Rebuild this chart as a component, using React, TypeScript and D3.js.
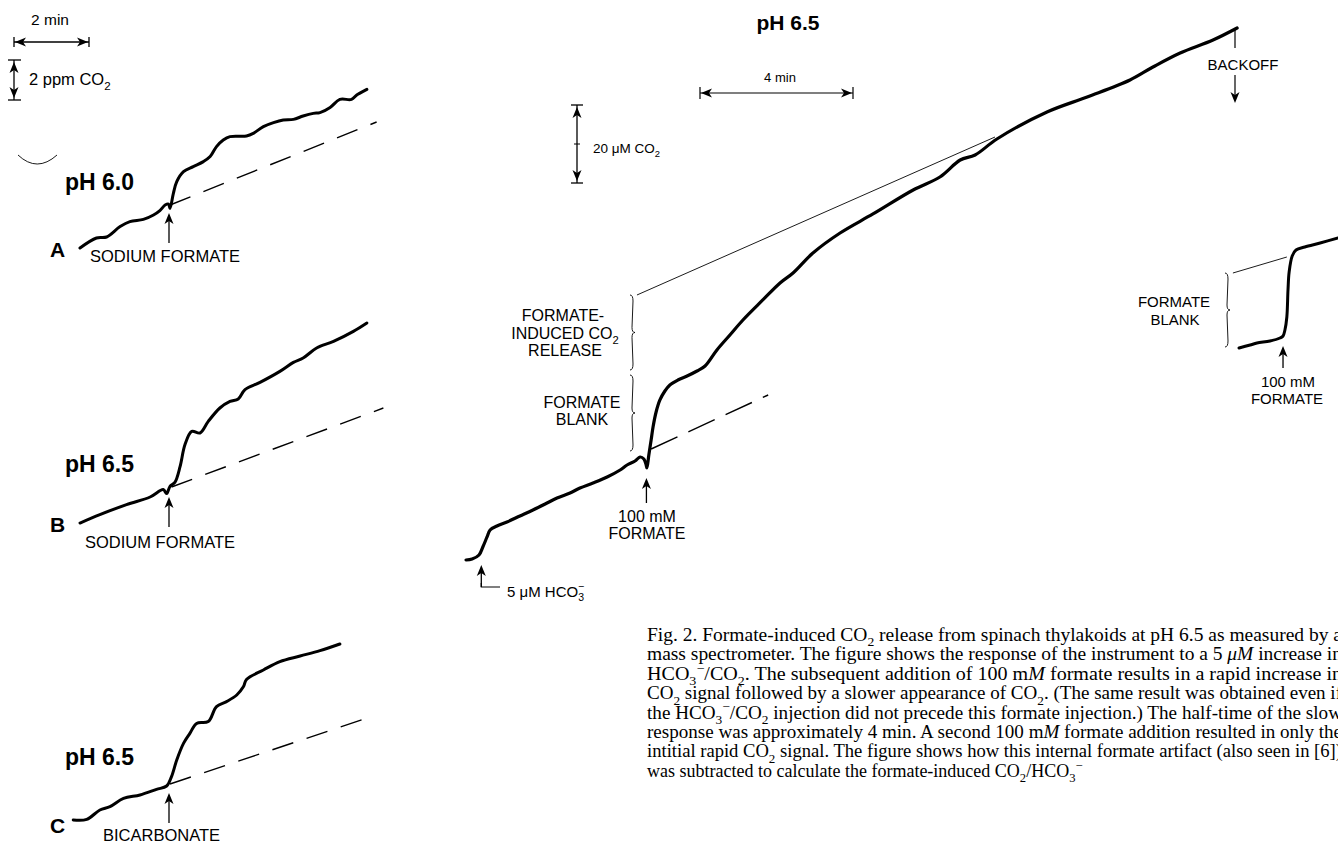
import React from "react";
import * as d3 from "d3";

type Pt = [number, number];

// Panels A-C: time (min) vs CO2 signal (ppm above start of trace)
const traceA: Pt[] = [
  [0, 0], [0.44, 0.5], [0.71, 0.55], [1.07, 1.07], [1.33, 1.32], [1.69, 1.43], [1.96, 1.65],
  [2.13, 1.87], [2.27, 2.15], [2.36, 2.2], [2.4, 1.98], [2.49, 2.73], [2.58, 3.32], [2.76, 3.82],
  [3.02, 4.07], [3.29, 4.32], [3.47, 4.57], [3.64, 5.07], [3.82, 5.4], [4.0, 5.57], [4.44, 5.6],
  [4.62, 5.73], [4.89, 6.07], [5.16, 6.27], [5.42, 6.4], [5.69, 6.43], [5.95, 6.6], [6.22, 6.73],
  [6.4, 6.77], [6.67, 7.03], [6.93, 7.43], [7.24, 7.43], [7.38, 7.65], [7.65, 7.93],
];
const baseA: Pt[] = [[2.4, 2.15], [7.91, 6.3]];

const traceB: Pt[] = [
  [0, 0], [0.53, 0.42], [1.24, 0.92], [1.87, 1.3], [2.22, 1.67], [2.31, 1.47], [2.4, 1.83],
  [2.53, 2.03], [2.67, 2.83], [2.8, 3.92], [2.98, 4.58], [3.2, 4.5], [3.42, 5.08], [3.73, 5.75],
  [4.0, 6.08], [4.22, 6.2], [4.4, 6.67], [4.8, 7.03], [5.33, 7.58], [5.69, 8.03], [5.95, 8.25],
  [6.31, 8.75], [6.76, 9.08], [7.29, 9.58], [7.65, 10.0],
];
const baseB: Pt[] = [[2.44, 1.8], [8.09, 5.75]];

const traceC: Pt[] = [
  [-0.18, 0], [0.18, 0.03], [0.53, 0.5], [0.8, 0.67], [1.16, 1.08], [1.6, 1.25], [2.04, 1.53],
  [2.31, 1.7], [2.44, 2.17], [2.58, 3.0], [2.76, 3.83], [2.93, 4.33], [3.11, 4.83], [3.42, 4.92],
  [3.64, 5.67], [3.91, 5.92], [4.18, 6.25], [4.36, 6.67], [4.44, 7.03], [4.89, 7.5], [5.33, 7.92],
  [5.87, 8.2], [6.4, 8.47], [6.93, 8.8],
];
const baseC: Pt[] = [[2.4, 1.8], [7.69, 5.12]];

// Main panel: time (min) vs CO2 (µM)
const mainTrace: Pt[] = [
  [0, 0], [0.16, 0.26], [0.34, 1.28], [0.44, 3.33], [0.55, 5.9], [0.63, 7.69], [0.81, 8.72],
  [1.07, 9.74], [1.41, 11.28], [1.75, 12.82], [2.07, 14.36], [2.38, 15.9], [2.72, 17.18],
  [2.98, 18.46], [3.32, 19.74], [3.69, 21.28], [4.03, 23.08], [4.21, 24.36], [4.42, 25.38],
  [4.55, 26.41], [4.65, 25.9], [4.71, 24.36], [4.73, 23.59], [4.78, 26.92], [4.84, 30.77],
  [4.89, 34.1], [4.97, 37.95], [5.07, 41.03], [5.2, 43.33], [5.33, 44.87], [5.54, 46.15],
  [5.78, 47.18], [6.04, 48.46], [6.25, 49.74], [6.56, 53.85], [6.9, 57.69], [7.24, 61.54],
  [7.76, 66.67], [8.21, 71.03], [8.55, 73.59], [9.07, 78.72], [9.78, 83.85], [10.64, 88.72],
  [11.69, 94.87], [12.39, 98.21], [12.92, 102.56], [13.31, 103.85], [13.88, 107.95],
  [15.19, 114.87], [16.24, 118.72], [17.36, 123.08], [17.96, 126.41], [18.67, 130.0],
  [19.53, 133.33], [20.16, 136.41],
];
const mainBase: Pt[] = [[4.84, 28.46], [7.9, 42.31]];
const mainExtrap: Pt[] = [[4.47, 67.95], [13.83, 108.46]];

// second formate addition after backoff
const blankTrace: Pt[] = [
  [20.21, 0], [20.5, 0.77], [20.68, 1.28], [21.02, 1.79], [21.28, 2.56], [21.36, 3.08],
  [21.41, 4.62], [21.46, 7.95], [21.49, 14.87], [21.52, 19.49], [21.6, 23.59], [21.7, 25.13],
  [21.93, 25.9], [22.33, 26.92], [22.8, 28.21],
];
const blankExtrap: Pt[] = [[20.05, 19.23], [21.46, 23.33]];

const captionLines = [
  "Fig. 2. Formate-induced CO_2 release from spinach thylakoids at pH 6.5 as measured by a",
  "mass spectrometer. The figure shows the response of the instrument to a 5 *μM* increase in",
  "HCO_3^−/CO_2. The subsequent addition of 100 m*M* formate results in a rapid increase in",
  "CO_2 signal followed by a slower appearance of CO_2. (The same result was obtained even if",
  "the HCO_3^−/CO_2 injection did not precede this formate injection.) The half-time of the slow",
  "response was approximately 4 min. A second 100 m*M* formate addition resulted in only the",
  "intitial rapid CO_2 signal. The figure shows how this internal formate artifact (also seen in [6])",
  "was subtracted to calculate the formate-induced CO_2/HCO_3^−",
];

const SANS = "'Liberation Sans', Arial, Helvetica, sans-serif";
const SERIF = "'Liberation Serif', 'Times New Roman', serif";

// scales
const xLeft = d3.scaleLinear().domain([0, 8]).range([80, 380]);
const yA = d3.scaleLinear().domain([0, 10]).range([248, 48]);
const yB = d3.scaleLinear().domain([0, 10]).range([523, 323]);
const yC = d3.scaleLinear().domain([0, 10]).range([820, 620]);
const xMain = d3.scaleLinear().domain([0, 20]).range([466, 1231]);
const yMain = d3.scaleLinear().domain([0, 140]).range([560, 14]);
const yBlank = d3.scaleLinear().domain([0, 30]).range([348, 231]);

const mkLine = (x: d3.ScaleLinear<number, number>, y: d3.ScaleLinear<number, number>) =>
  d3.line<Pt>().x(d => x(d[0])).y(d => y(d[1])).curve(d3.curveCatmullRom.alpha(0.5));

const ArrowUp = ({ x, tip, end }: { x: number; tip: number; end: number }) => (
  <g>
    <line x1={x} x2={x} y1={tip + 4} y2={end} stroke="#000" strokeWidth={1.3} />
    <path d={`M${x},${tip} L${x - 4.5},${tip + 11} L${x},${tip + 8} L${x + 4.5},${tip + 11} Z`} fill="#000" />
  </g>
);

const HeadLeft = ({ x, y }: { x: number; y: number }) => (
  <path d={`M${x},${y} L${x + 11},${y - 4.5} L${x + 8},${y} L${x + 11},${y + 4.5} Z`} fill="#000" />
);
const HeadRight = ({ x, y }: { x: number; y: number }) => (
  <path d={`M${x},${y} L${x - 11},${y - 4.5} L${x - 8},${y} L${x - 11},${y + 4.5} Z`} fill="#000" />
);
const HeadUp = ({ x, y }: { x: number; y: number }) => (
  <path d={`M${x},${y} L${x - 4.5},${y + 11} L${x},${y + 8} L${x + 4.5},${y + 11} Z`} fill="#000" />
);
const HeadDown = ({ x, y }: { x: number; y: number }) => (
  <path d={`M${x},${y} L${x - 4.5},${y - 11} L${x},${y - 8} L${x + 4.5},${y - 11} Z`} fill="#000" />
);

// thin curly brace "}" from y0 to y1
const brace = (x: number, y0: number, y1: number) => {
  const ym = (y0 + y1) / 2;
  return `M${x - 2},${y0} Q${x + 1},${y0} ${x + 1},${y0 + 6} L${x},${ym - 5} Q${x},${ym} ${x + 3},${ym}` +
    ` Q${x},${ym} ${x},${ym + 5} L${x + 1},${y1 - 6} Q${x + 1},${y1} ${x - 2},${y1}`;
};

// tiny markup: _x subscript, ^x superscript, *..* italic
const renderRich = (s: string, fs: number) => {
  const out: JSX.Element[] = [];
  let shift = 0;
  let italic = false;
  let buf = "";
  let k = 0;
  const flush = () => {
    if (!buf) return;
    out.push(
      <tspan key={k++} dy={-shift} fontStyle={italic ? "italic" : "normal"}>{buf}</tspan>
    );
    shift = 0;
    buf = "";
  };
  for (let i = 0; i < s.length; i++) {
    const c = s[i];
    if (c === "*") { flush(); italic = !italic; continue; }
    if (c === "_" || c === "^") {
      flush();
      const d = c === "_" ? fs * 0.3 : -fs * 0.4;
      out.push(
        <tspan key={k++} dy={d - shift} fontSize={fs * 0.7}>{s[i + 1]}</tspan>
      );
      shift = d;
      i++;
      continue;
    }
    buf += c;
  }
  flush();
  if (shift !== 0) out.push(<tspan key={k++} dy={-shift}>{""}</tspan>);
  return out;
};

const Panel = ({ trace, base, y, label, ph, phY, letterY, addLabel, addX, labelY, arrowTip }: any) => {
  const line = mkLine(xLeft, y);
  return (
    <g>
      <path d={line(trace) || ""} fill="none" stroke="#000" strokeWidth={3} strokeLinejoin="round" strokeLinecap="round" />
      <path d={d3.line<Pt>().x(d => xLeft(d[0])).y(d => y(d[1]))(base) || ""} fill="none" stroke="#000" strokeWidth={1.4} strokeDasharray="22 14" />
      <text x={65} y={phY} fontFamily={SANS} fontWeight="bold" fontSize={23}>{ph}</text>
      <text x={50} y={letterY} fontFamily={SANS} fontWeight="bold" fontSize={21}>{label}</text>
      <text x={addX} y={labelY} fontFamily={SANS} fontSize={16.5}>{addLabel}</text>
      <ArrowUp x={xLeft(2.4) - 1} tip={arrowTip} end={arrowTip + 30} />
    </g>
  );
};

export default function App() {
  const mainLine = mkLine(xMain, yMain);
  const straight = (x: any, y: any) => d3.line<Pt>().x(d => x(d[0])).y(d => y(d[1]));
  const blankLine = mkLine(xMain, yBlank);

  const x2min0 = 14;
  const x2min1 = x2min0 + xLeft(2) - xLeft(0);
  const ppmTop = 60;
  const ppmBot = ppmTop + yA(0) - yA(2);

  const min4x0 = 700;
  const min4x1 = min4x0 + xMain(4) - xMain(0);
  const umTop = 105;
  const umBot = umTop + yMain(0) - yMain(20);

  const capFs = 18;
  return (
    <svg width={1338} height={844} style={{ position: "absolute", left: 0, top: 0, background: "#fff" }}>
      {/* left scale bars */}
      <text x={50} y={25} textAnchor="middle" fontFamily={SANS} fontSize={15.5}>2 min</text>
      <line x1={x2min0} x2={x2min1} y1={42} y2={42} stroke="#000" strokeWidth={1.3} />
      <line x1={x2min0} x2={x2min0} y1={37} y2={47} stroke="#000" strokeWidth={1.3} />
      <line x1={x2min1} x2={x2min1} y1={37} y2={47} stroke="#000" strokeWidth={1.3} />
      <HeadLeft x={x2min0 + 1} y={42} />
      <HeadRight x={x2min1 - 1} y={42} />
      <line x1={14} x2={14} y1={ppmTop} y2={ppmBot} stroke="#000" strokeWidth={1.3} />
      <line x1={8} x2={21} y1={ppmTop} y2={ppmTop} stroke="#000" strokeWidth={1.3} />
      <line x1={8} x2={21} y1={ppmBot} y2={ppmBot} stroke="#000" strokeWidth={1.3} />
      <HeadUp x={14} y={ppmTop + 2} />
      <HeadDown x={14} y={ppmBot - 2} />
      <text x={29} y={85} fontFamily={SANS} fontSize={16.5}>{renderRich("2 ppm CO_2", 16.5)}</text>
      <path d="M18,155 Q37,173 57,155" fill="none" stroke="#000" strokeWidth={0.9} />

      <Panel trace={traceA} base={baseA} y={yA} label="A" ph="pH 6.0" phY={190} letterY={257}
        addLabel="SODIUM FORMATE" addX={90} labelY={262} arrowTip={213} />
      <Panel trace={traceB} base={baseB} y={yB} label="B" ph="pH 6.5" phY={472} letterY={532}
        addLabel="SODIUM FORMATE" addX={85} labelY={548} arrowTip={497} />
      <Panel trace={traceC} base={baseC} y={yC} label="C" ph="pH 6.5" phY={765} letterY={833}
        addLabel="BICARBONATE" addX={103} labelY={841} arrowTip={793} />

      {/* main panel */}
      <text x={788} y={30} textAnchor="middle" fontFamily={SANS} fontWeight="bold" fontSize={21}>pH 6.5</text>
      <text x={780} y={82} textAnchor="middle" fontFamily={SANS} fontSize={13}>4 min</text>
      <line x1={min4x0} x2={min4x1} y1={93} y2={93} stroke="#000" strokeWidth={1.2} />
      <line x1={min4x0} x2={min4x0} y1={87} y2={99} stroke="#000" strokeWidth={1.2} />
      <line x1={min4x1} x2={min4x1} y1={87} y2={99} stroke="#000" strokeWidth={1.2} />
      <HeadLeft x={min4x0 + 1} y={93} />
      <HeadRight x={min4x1 - 1} y={93} />
      <line x1={577} x2={577} y1={umTop} y2={umBot} stroke="#000" strokeWidth={1.3} />
      <line x1={571} x2={583} y1={umTop} y2={umTop} stroke="#000" strokeWidth={1.3} />
      <line x1={571} x2={583} y1={umBot} y2={umBot} stroke="#000" strokeWidth={1.3} />
      <line x1={574} x2={580} y1={(umTop + umBot) / 2} y2={(umTop + umBot) / 2} stroke="#000" strokeWidth={1} />
      <HeadUp x={577} y={umTop + 2} />
      <HeadDown x={577} y={umBot - 2} />
      <text x={593} y={153} fontFamily={SANS} fontSize={13.5}>{renderRich("20 μM CO_2", 13.5)}</text>

      <path d={straight(xMain, yMain)(mainExtrap) || ""} fill="none" stroke="#000" strokeWidth={0.9} />
      <path d={straight(xMain, yMain)(mainBase) || ""} fill="none" stroke="#000" strokeWidth={1.4} strokeDasharray="29 12" />
      <path d={mainLine(mainTrace) || ""} fill="none" stroke="#000" strokeWidth={3.2} strokeLinejoin="round" strokeLinecap="round" />

      <path d={brace(632, yMain(67.95), 370)} fill="none" stroke="#000" strokeWidth={0.9} />
      <path d={brace(632, 375, 451)} fill="none" stroke="#000" strokeWidth={0.9} />
      <g fontFamily={SANS} fontSize={16} textAnchor="middle">
        <text x={563} y={321}>FORMATE-</text>
        <text x={565} y={339}>{renderRich("INDUCED CO_2", 16)}</text>
        <text x={565} y={356}>RELEASE</text>
        <text x={582} y={408}>FORMATE</text>
        <text x={582} y={425}>BLANK</text>
        <text x={647} y={522}>100 mM</text>
        <text x={647} y={539}>FORMATE</text>
      </g>
      <ArrowUp x={xMain(4.73) - 0.5} tip={478} end={503} />

      <path d={`M${xMain(0.4)},${yMain(0) + 23} L${xMain(0.4)},${yMain(0) + 27} L500,${yMain(0) + 27}`} fill="none" stroke="#000" strokeWidth={1.2} />
      <ArrowUp x={xMain(0.4)} tip={565} end={587} />
      <text x={507} y={597} fontFamily={SANS} fontSize={15}>
        5 μM HCO<tspan dy={4} fontSize={10.5}>3</tspan><tspan dx={-6} dy={-11} fontSize={10.5}>−</tspan>
      </text>

      {/* backoff */}
      <line x1={1235} x2={1235} y1={30} y2={48} stroke="#000" strokeWidth={1.2} />
      <text x={1243} y={70} textAnchor="middle" fontFamily={SANS} fontSize={15}>BACKOFF</text>
      <line x1={1235} x2={1235} y1={75} y2={100} stroke="#000" strokeWidth={1.2} />
      <HeadDown x={1235} y={103} />

      {/* second formate addition */}
      <path d={straight(xMain, yBlank)(blankExtrap) || ""} fill="none" stroke="#000" strokeWidth={0.9} />
      <path d={blankLine(blankTrace) || ""} fill="none" stroke="#000" strokeWidth={3} strokeLinejoin="round" strokeLinecap="round" />
      <path d={brace(1227, 273, 347)} fill="none" stroke="#000" strokeWidth={0.9} />
      <g fontFamily={SANS} fontSize={15} textAnchor="middle">
        <text x={1174} y={307}>FORMATE</text>
        <text x={1175} y={325}>BLANK</text>
        <text x={1288} y={387}>100 mM</text>
        <text x={1287} y={404}>FORMATE</text>
      </g>
      <ArrowUp x={xMain(21.36)} tip={346} end={368} />

      {/* caption */}
      <g fontFamily={SERIF} fontSize={capFs}>
        {captionLines.map((l, i) => (
          <text key={i} x={647} y={641 + i * 19.4}
            {...(i < captionLines.length - 1 ? { textLength: 695, lengthAdjust: "spacingAndGlyphs" } : {})}>
            {renderRich(l, capFs)}
          </text>
        ))}
      </g>
    </svg>
  );
}
